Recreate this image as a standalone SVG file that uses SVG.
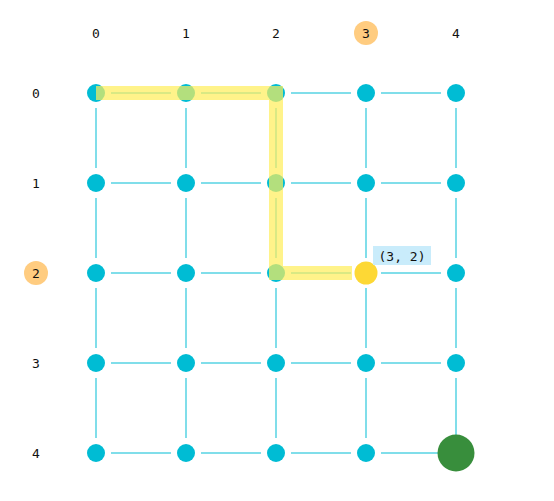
<svg xmlns="http://www.w3.org/2000/svg" width="554" height="501" viewBox="0 0 554 501">
<style>
.e{stroke:#80deea;stroke-width:2;fill:none}
.n{fill:#00bcd4}
.t{font-family:"DejaVu Sans Mono",monospace;font-size:13px;fill:#111;text-anchor:middle}
.hl{stroke:#ffee58;stroke-opacity:0.7;stroke-width:14;fill:none;stroke-linejoin:miter}
</style>
<rect width="554" height="501" fill="#fff"/>
<g id="axis-labels">
<circle cx="366" cy="33" r="12" fill="#ffcc80"/>
<circle cx="36" cy="273" r="12" fill="#ffcc80"/>
<text class="t" x="96" y="38">0</text>
<text class="t" x="186" y="38">1</text>
<text class="t" x="276" y="38">2</text>
<text class="t" x="366" y="38">3</text>
<text class="t" x="456" y="38">4</text>
<text class="t" x="36" y="98">0</text>
<text class="t" x="36" y="188">1</text>
<text class="t" x="36" y="278">2</text>
<text class="t" x="36" y="368">3</text>
<text class="t" x="36" y="458">4</text>
</g>
<g id="connectors">
<path class="e" d="M111 93H171M201 93H261M291 93H351M381 93H441
M111 183H171M201 183H261M291 183H351M381 183H441
M111 273H171M201 273H261M291 273H351M381 273H441
M111 363H171M201 363H261M291 363H351M381 363H441
M111 453H171M201 453H261M291 453H351M381 453H441
M96 108V168M96 198V258M96 288V348M96 378V438
M186 108V168M186 198V258M186 288V348M186 378V438
M276 108V168M276 198V258M276 288V348M276 378V438
M366 108V168M366 198V258M366 288V348M366 378V438
M456 108V168M456 198V258M456 288V348M456 378V438"/>
</g>
<g id="nodes">
<circle id="n00" class="n" cx="96" cy="93" r="9"/><circle id="n10" class="n" cx="186" cy="93" r="9"/><circle id="n20" class="n" cx="276" cy="93" r="9"/><circle id="n30" class="n" cx="366" cy="93" r="9"/><circle id="n40" class="n" cx="456" cy="93" r="9"/>
<circle id="n01" class="n" cx="96" cy="183" r="9"/><circle id="n11" class="n" cx="186" cy="183" r="9"/><circle id="n21" class="n" cx="276" cy="183" r="9"/><circle id="n31" class="n" cx="366" cy="183" r="9"/><circle id="n41" class="n" cx="456" cy="183" r="9"/>
<circle id="n02" class="n" cx="96" cy="273" r="9"/><circle id="n12" class="n" cx="186" cy="273" r="9"/><circle id="n22" class="n" cx="276" cy="273" r="9"/><circle id="n42" class="n" cx="456" cy="273" r="9"/>
<circle id="n03" class="n" cx="96" cy="363" r="9"/><circle id="n13" class="n" cx="186" cy="363" r="9"/><circle id="n23" class="n" cx="276" cy="363" r="9"/><circle id="n33" class="n" cx="366" cy="363" r="9"/><circle id="n43" class="n" cx="456" cy="363" r="9"/>
<circle id="n04" class="n" cx="96" cy="453" r="9"/><circle id="n14" class="n" cx="186" cy="453" r="9"/><circle id="n24" class="n" cx="276" cy="453" r="9"/><circle id="n34" class="n" cx="366" cy="453" r="9"/>
</g>
<g id="path-highlight">
<path class="hl" d="M96 93H276V273H352"/>
</g>
<g id="current">
<circle cx="366" cy="273" r="11.5" fill="#fdd835"/>
<rect x="373" y="246" width="58" height="19" fill="#c9ecfb"/>
<text class="t" x="402" y="261">(3, 2)</text>
</g>
<g id="goal">
<circle cx="456" cy="453" r="18.5" fill="#388e3c"/>
</g>
</svg>
